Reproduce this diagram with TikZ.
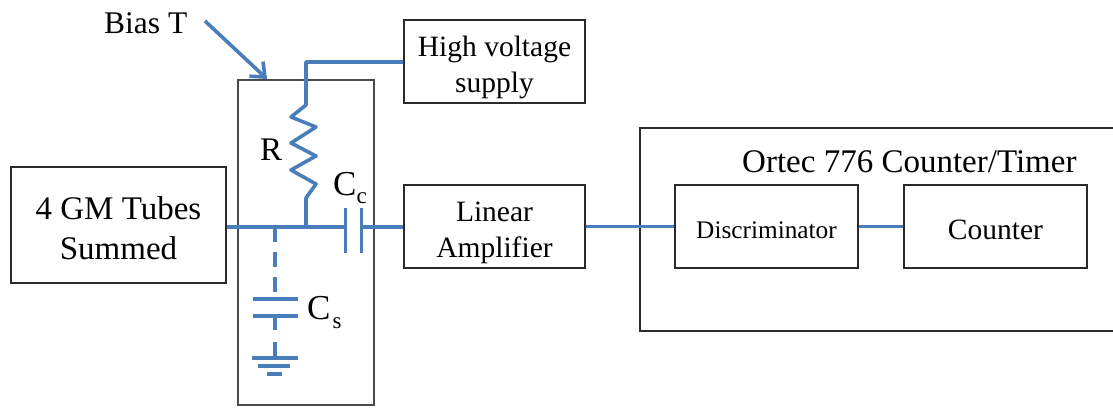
\documentclass[tikz,border=0pt]{standalone}
\usepackage{fontspec}
\setmainfont{Liberation Serif}
\usetikzlibrary{arrows.meta,calc}
\definecolor{wire}{HTML}{4A7EBB}
\definecolor{boxline}{HTML}{2A2A2A}
\newcommand{\dnrule}[1]{\rule{0pt}{#1pt}}
\newcommand{\subtxt}[2]{\raisebox{-#1pt}{\fontsize{23}{28}\selectfont #2}}
\tikzset{
  box/.style={draw=boxline,line width=1.6pt,rectangle,inner sep=0pt,align=center,font=\fontsize{33}{40}\selectfont},
  wirepath/.style={draw=wire,line width=3.6pt,line join=round},
  lbl/.style={inner sep=0pt,text=black,font=\fontsize{33}{40}\selectfont},
}
\begin{document}
\begin{tikzpicture}[x=1pt,y=-1pt]
\useasboundingbox (0,0) rectangle (1113,409);
\clip (0,0) rectangle (1113,409);
% boxes
\node[box,minimum width=215pt,minimum height=116pt] (gm) at (118.5,225) {\dnrule{30}4 GM Tubes\\Summed};
\node[box,draw=boxline!85,line width=2.2pt,minimum width=136pt,minimum height=325pt] (bias) at (306,242.5) {};
\node[box,minimum width=181pt,minimum height=83pt,font=\fontsize{29.5}{36}\selectfont] (hv) at (494.5,61.5) {\dnrule{32}High voltage\\supply};
\node[box,minimum width=181pt,minimum height=83pt,font=\fontsize{29.5}{36}\selectfont] (amp) at (494.5,226.5) {\dnrule{32}Linear\\Amplifier};
\node[box,minimum width=500pt,minimum height=203pt] (ortec) at (890,229.5) {};
\node[box,minimum width=183pt,minimum height=83pt,font=\fontsize{25.3}{30}\selectfont] (disc) at (766.5,226.5) {\dnrule{24}Discriminator};
\node[box,minimum width=183pt,minimum height=83pt,font=\fontsize{29.5}{36}\selectfont] (cnt) at (995.5,226.5) {\dnrule{26}Counter};
% labels
\node[lbl,anchor=base west] (ortecl) at (742,172) {Ortec 776 Counter/Timer};
\node[lbl,anchor=base west,font=\fontsize{31.5}{38}\selectfont] (biasl) at (104,34) {Bias T};
\node[lbl,anchor=base west] (rl) at (260,160) {R};
\node[lbl,anchor=base west,font=\fontsize{35}{40}\selectfont] (ccl) at (333,195) {C\subtxt{8}{c}};
\node[lbl,anchor=base west,font=\fontsize{35}{40}\selectfont] (csl) at (307,319) {C\kern2pt\subtxt{9}{s}};
% junctions
\coordinate (jr) at (306,227);
\coordinate (js) at (275,227);
\coordinate (capa) at (345.5,227);
\coordinate (capb) at (361.5,227);
\coordinate (biasarrow) at (205,21);
\coordinate (biastip) at (267,79);
\coordinate (csa) at (275,299);
\coordinate (csb) at (275,316);
\coordinate (gnd) at (275,358);
% wires
\draw[wirepath] (gm.east |- jr) -- (capa);
\draw[wirepath] (capb) -- (amp.west |- capb);
\draw[wirepath] (capa |- 0,208) -- (capa |- 0,253);
\draw[wirepath] (capb |- 0,208) -- (capb |- 0,253);
\draw[wirepath] (jr) -- (306,198) -- (316,184) -- (291,170) -- (316,156) -- (291,143) -- (316,127) -- (291,117) -- (306,105) -- (306,62) -- (hv.west |- 0,62);
\draw[wirepath,-{Straight Barb[length=12pt,width=20pt,line width=3.6pt]}] (biasarrow) -- (biastip);
\draw[wirepath,dash pattern=on 15pt off 10pt] (js) -- (csa);
\draw[wirepath] (253,299) -- (298,299);
\draw[wirepath] (253,316) -- (298,316);
\draw[wirepath,dash pattern=on 14pt off 12pt] (csb) -- (gnd);
\draw[wirepath] (252,358) -- (298,358);
\draw[wirepath] (258,366) -- (290,366);
\draw[wirepath] (267,374) -- (282,374);
\draw[wirepath] (amp.east |- disc.west) -- (disc.west);
\draw[wirepath] (disc.east) -- (cnt.west);
\end{tikzpicture}
\end{document}
